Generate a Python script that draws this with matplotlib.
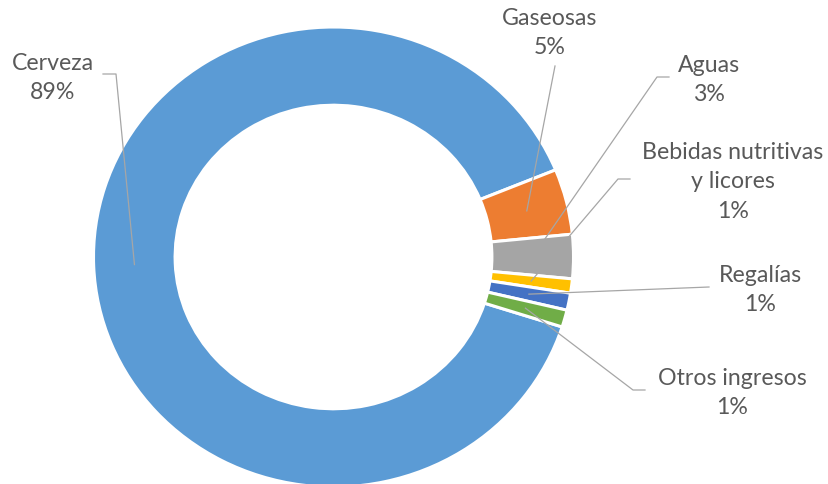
import numpy as np
import matplotlib
matplotlib.use("Agg")
import matplotlib.pyplot as plt

plt.rcParams['font.family'] = ['Lato', 'DejaVu Sans']

# ingresos por linea de negocio (%)
categorias = ['Cerveza', 'Gaseosas', 'Aguas', 'Bebidas nutritivas\ny licores',
              'Regalías', 'Otros ingresos']
valores = [88.9, 4.6, 3.1, 1.0, 1.2, 1.2]
colores = ['#5B9BD5', '#ED7D31', '#A5A5A5', '#FFC000', '#4472C4', '#70AD47']

W, H = 829, 485
cx, cy, rx, ry = 333.5, 258, 240, 230

fig = plt.figure(figsize=(W / 100, H / 100), dpi=100)
ax = fig.add_axes([(cx - rx) / W, 1 - (cy + ry) / H, 2 * rx / W, 2 * ry / H])
wedges, _ = ax.pie(valores, colors=colores, startangle=-17.7, counterclock=False,
                   radius=1, wedgeprops=dict(width=0.34, edgecolor='white', linewidth=2.2))
ax.set_aspect('auto')
ax.set_xlim(-1, 1)
ax.set_ylim(-1, 1)

# capa en pixeles para etiquetas y lineas guia
ov = fig.add_axes([0, 0, 1, 1])
ov.set_xlim(0, W)
ov.set_ylim(H, 0)
ov.axis('off')

# (centro del texto, codo, inicio de la linea)
etiquetas = [
    ((53, 78), (116, 75), (103, 75)),
    ((550, 33), None, (555, 67)),
    ((709, 80), (657, 78), (669, 78)),
    ((733, 182), (618, 180), (630, 180)),
    ((760, 290), None, (709, 288)),
    ((732, 393), (633, 391), (645, 391)),
]

for w, nombre, v, (txt, codo, ini) in zip(wedges, categorias, valores, etiquetas):
    mid = np.deg2rad((w.theta1 + w.theta2) / 2)
    r = 1 - 0.34 / 2
    px = cx + r * rx * np.cos(mid)
    py = cy - r * ry * np.sin(mid)
    xs = [ini[0]] + ([codo[0]] if codo else []) + [px]
    ys = [ini[1]] + ([codo[1]] if codo else []) + [py]
    ov.plot(xs, ys, color='#A6A6A6', lw=0.9)
    ov.text(txt[0], txt[1], f"{nombre}\n{v:.0f}%", ha='center', va='center',
            fontsize=16.7, color='#595959', linespacing=1.52)

fig.savefig('out.png', dpi=100)
